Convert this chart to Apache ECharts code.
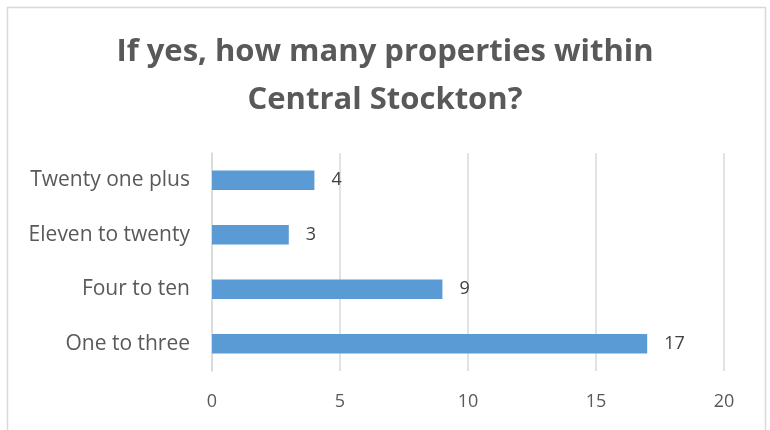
<!DOCTYPE html>
<html>
<head>
<meta charset="utf-8">
<script src="https://cdn.jsdelivr.net/npm/echarts@6/dist/echarts.min.js"></script>
<style>
  html, body { margin: 0; padding: 0; background: #ffffff; }
  #chart { width: 770px; height: 430px; }
</style>
</head>
<body>
<div id="chart"></div>
<script>
// Survey answers: number of properties held within Central Stockton
const categories = ['One to three', 'Four to ten', 'Eleven to twenty', 'Twenty one plus'];
const counts = [17, 9, 3, 4];
const xTicks = [0, 5, 10, 15, 20];

const textColor = '#595959';
const font = 'Open Sans';

const chart = echarts.init(document.getElementById('chart'), null, { renderer: 'canvas' });
chart.setOption({
  backgroundColor: '#ffffff',
  animation: false,
  graphic: [{
    type: 'rect',
    shape: { x: 7.5, y: 7.5, width: 758, height: 440 },
    style: { fill: 'none', stroke: '#d9d9d9', lineWidth: 1.5 },
    silent: true
  }],
  title: {
    text: 'If yes, how many properties within\nCentral Stockton?',
    left: 'center',
    top: 23,
    textStyle: {
      fontFamily: font,
      fontWeight: 'bold',
      fontSize: 31,
      lineHeight: 48,
      color: textColor
    }
  },
  grid: { left: 212, right: 46, top: 153, bottom: 59, containLabel: false },
  xAxis: {
    type: 'value',
    min: xTicks[0],
    max: xTicks[xTicks.length - 1],
    interval: xTicks[1] - xTicks[0],
    axisLine: { show: false },
    axisTick: { show: false },
    axisLabel: {
      margin: 22,
      fontFamily: font,
      fontSize: 18,
      color: textColor
    },
    splitLine: { show: true, lineStyle: { color: '#d9d9d9', width: 1.5 } }
  },
  yAxis: {
    type: 'category',
    data: categories,
    axisLine: { show: true, lineStyle: { color: '#d9d9d9', width: 1.5 } },
    axisTick: { show: false },
    axisLabel: {
      margin: 22,
      fontFamily: font,
      fontSize: 21,
      color: textColor
    }
  },
  series: [{
    type: 'bar',
    data: counts,
    barCategoryGap: '64%',
    itemStyle: { color: '#5b9bd5' },
    label: {
      show: true,
      position: 'right',
      distance: 17,
      fontFamily: font,
      fontSize: 18,
      color: '#404040'
    }
  }]
});
</script>
</body>
</html>
